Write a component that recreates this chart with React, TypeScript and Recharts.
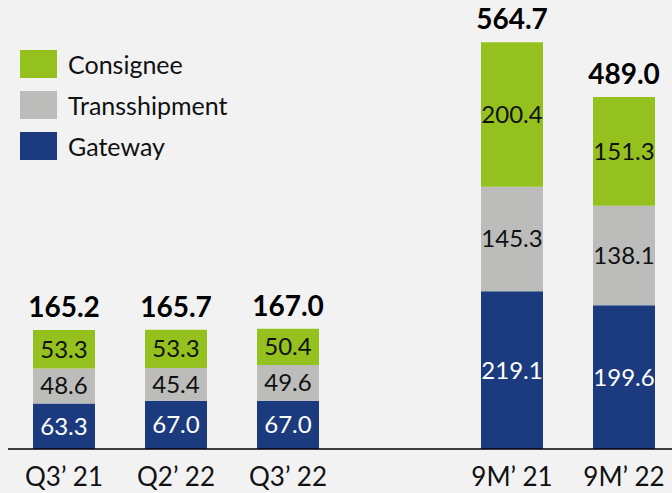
import { BarChart, Bar, XAxis, YAxis, Legend, LabelList } from 'recharts'

const categories = ['Q3’ 21', 'Q2’ 22', 'Q3’ 22', '', '9M’ 21', '9M’ 22']
const gateway = [63.3, 67.0, 67.0, null, 219.1, 199.6]
const transshipment = [48.6, 45.4, 49.6, null, 145.3, 138.1]
const consignee = [53.3, 53.3, 50.4, null, 200.4, 151.3]
const totals = [165.2, 165.7, 167.0, null, 564.7, 489.0]
const legendOrder = ['Consignee', 'Transshipment', 'Gateway']

const GREEN = '#95C11F'
const GRAY = '#BCBDBB'
const BLUE = '#1C3B7F'
const FONT = 'Lato, "Open Sans", sans-serif'

const data = categories.map((name, i) => ({
  name,
  gateway: gateway[i],
  transshipment: transshipment[i],
  consignee: consignee[i],
  total: totals[i],
}))

const fmt = (v: any) => (v == null ? '' : Number(v).toFixed(1))

function LegendBox({ payload }: any) {
  const items = [...(payload || [])].sort(
    (a: any, b: any) => legendOrder.indexOf(a.value) - legendOrder.indexOf(b.value)
  )
  return (
    <div style={{ fontFamily: FONT }}>
      {items.map((it: any) => (
        <div key={it.value} style={{ display: 'flex', alignItems: 'center', height: 41 }}>
          <span style={{ width: 37, height: 28, background: it.color, display: 'inline-block' }} />
          <span style={{ marginLeft: 11, fontSize: 25, color: '#111' }}>{it.value}</span>
        </div>
      ))}
    </div>
  )
}

export default function App() {
  return (
    <div
      style={{
        position: 'fixed',
        left: 0,
        top: 0,
        width: 672,
        height: 493,
        overflow: 'hidden',
        background: '#F2F2F2',
      }}
    >
      <BarChart
        width={688}
        height={493}
        data={data}
        margin={{ top: 17, right: 8, bottom: 0, left: 8 }}
      >
        <XAxis
          dataKey="name"
          axisLine={{ stroke: '#000', strokeWidth: 1.5 }}
          tickLine={false}
          tickSize={0}
          tickMargin={19}
          height={44}
          interval={0}
          tick={{ fill: '#111', fontSize: 26, fontFamily: FONT }}
        />
        <YAxis hide domain={[0, 600]} />
        <Legend
          layout="vertical"
          verticalAlign="middle"
          align="center"
          content={<LegendBox />}
          wrapperStyle={{ left: 20, top: 43, width: 260 }}
        />
        <Bar dataKey="gateway" name="Gateway" stackId="a" fill={BLUE} barSize={62} isAnimationActive={false}>
          <LabelList dataKey="gateway" position="center" formatter={fmt} fill="#fff" fontSize={24} fontFamily={FONT} />
        </Bar>
        <Bar dataKey="transshipment" name="Transshipment" stackId="a" fill={GRAY} barSize={62} isAnimationActive={false}>
          <LabelList dataKey="transshipment" position="center" formatter={fmt} fill="#111" fontSize={24} fontFamily={FONT} />
        </Bar>
        <Bar dataKey="consignee" name="Consignee" stackId="a" fill={GREEN} barSize={62} isAnimationActive={false}>
          <LabelList dataKey="consignee" position="center" formatter={fmt} fill="#111" fontSize={24} fontFamily={FONT} />
          <LabelList dataKey="total" position="top" offset={13} formatter={fmt} fill="#000" fontSize={28} fontWeight="bold" fontFamily={FONT} />
        </Bar>
      </BarChart>
    </div>
  )
}
